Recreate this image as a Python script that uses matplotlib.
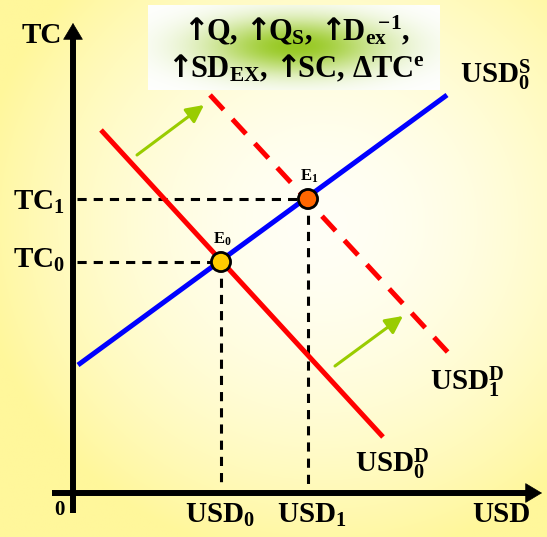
import numpy as np
import matplotlib
matplotlib.use('Agg')
from matplotlib import pyplot as plt

plt.rcParams['mathtext.fontset'] = 'custom'
plt.rcParams['mathtext.rm'] = 'Liberation Serif:bold'
plt.rcParams['mathtext.it'] = 'Liberation Serif:bold'
plt.rcParams['mathtext.bf'] = 'Liberation Serif:bold'
plt.rcParams['mathtext.sf'] = 'DejaVu Sans:bold'
plt.rcParams['mathtext.default'] = 'rm'

# curves (x = USD, y = TC), in chart units with origin at axes corner
supply_x = [5, 374]
supply_y = [128, 398]
demand0_x = [28, 310]
demand0_y = [363, 56]
demand1_x = [137, 382]
demand1_y = [398, 133]

# equilibria E0, E1
eq_x = [148, 235]
eq_y = [231, 294]
eq_colors = ['#FFCC00', '#FF6600']
eq_names = ['E$_0$', 'E$_1$']

# shift arrows (start, end)
shift_arrows = [((64, 338), (131, 388)), ((262, 127), (330, 177))]

up = r'$\!\mathsf{\uparrow}\!\!$'
box_lines = [up + 'Q, ' + up + r'Q$_\mathrm{S}$, ' + up + r'D$_\mathrm{ex}\!\!{}^{-1}$,',
             up + r'SD$_\mathrm{EX}$, ' + up + r'SC, ΔTC$^\mathrm{e}$']

fig = plt.figure(figsize=(5.47, 5.37), dpi=100)
ax = fig.add_axes([0, 0, 1, 1])
ax.set_xlim(-73, 474)
ax.set_ylim(-44, 493)
ax.axis('off')

# yellow background with light centre
xx, yy = np.meshgrid(np.linspace(-73, 474, 300), np.linspace(-44, 493, 300))
d = np.clip(np.sqrt(((xx - 250) / 350) ** 2 + ((yy - 270) / 340) ** 2), 0, 1) ** 1.7
c0 = np.array([255, 255, 246]) / 255
c1 = np.array([255, 247, 155]) / 255
bg = c0 + (c1 - c0) * d[..., None]
ax.imshow(bg, extent=(-73, 474, -44, 493), origin='lower', aspect='auto', zorder=0)

# text box with green glow
bx0, bx1, by0, by1 = 75, 367, 403, 488
gx, gy = np.meshgrid(np.linspace(bx0, bx1, 200), np.linspace(by0, by1, 80))
w = np.exp(-(((gx - 222) / 90) ** 2 + ((gy - 447) / 28) ** 2))
g0 = np.array([1.0, 1.0, 1.0])
g1 = np.array([140, 195, 10]) / 255
box = g0 + (g1 - g0) * (0.9 * w)[..., None]
ax.imshow(box, extent=(bx0, bx1, by0, by1), origin='lower', aspect='auto', zorder=1)
for i, s in enumerate(box_lines):
    ax.text(223, 453 - i * 37, s, ha='center', va='baseline', fontsize=22,
            family='Liberation Serif', weight='bold', zorder=6)

# axes
ax.plot([0, 0], [-20, 456], color='black', lw=4.3, solid_capstyle='butt', zorder=5)
ax.plot([-21, 455], [0, 0], color='black', lw=4.3, solid_capstyle='butt', zorder=5)
head = dict(arrowstyle='-|>,head_length=0.75,head_width=0.45', lw=0.5, color='black',
            shrinkA=0, shrinkB=0, mutation_scale=15)
ax.annotate('', xy=(0, 470), xytext=(0, 440), arrowprops=head, zorder=5)
ax.annotate('', xy=(469, 0), xytext=(440, 0), arrowprops=head, zorder=5)

# guide lines
for x, y in zip(eq_x, eq_y):
    ax.plot([4, x], [y, y], color='black', lw=2.2, dashes=(3, 2.3), zorder=2)
    ax.plot([x, x], [y, 8], color='black', lw=2.2, dashes=(3, 2.3), zorder=2)

ax.plot(supply_x, supply_y, color='#0000FF', lw=3.6, solid_capstyle='butt', zorder=3)
ax.plot(demand0_x, demand0_y, color='#FF0000', lw=3.6, solid_capstyle='butt', zorder=3)
ax.plot(demand1_x, demand1_y, color='#FF0000', lw=3.6, dashes=(4, 2.6), zorder=3)

for (x0, y0), (x1, y1) in shift_arrows:
    ax.annotate('', xy=(x1, y1), xytext=(x0, y0),
                arrowprops=dict(arrowstyle='-|>,head_length=0.7,head_width=0.35', lw=2.2,
                                color='#99CC00', shrinkA=0, shrinkB=0, mutation_scale=15), zorder=4)

ax.scatter(eq_x, eq_y, s=190, c=eq_colors, edgecolors='black', linewidths=2, zorder=7)
for x, y, s in zip(eq_x, eq_y, eq_names):
    ax.text(x + 1, y + 18, s, ha='center', va='baseline', fontsize=12,
            family='Liberation Serif', weight='bold', zorder=6)

lab = dict(family='Liberation Serif', weight='bold', fontsize=21, va='baseline', zorder=6)
ax.text(-51, 450, 'TC', ha='left', **lab)
ax.text(-60, 283, 'TC$_1$', ha='left', **lab)
ax.text(-60, 225, 'TC$_0$', ha='left', **lab)
ax.text(-14, -22, '0', ha='center', family='Liberation Serif', weight='bold', fontsize=15, va='baseline')
ax.text(112, -30, 'USD$_0$', ha='left', **lab)
ax.text(204, -30, 'USD$_1$', ha='left', **lab)
ax.text(399, -29, 'USD', ha='left', **lab)
ax.text(282, 21, 'USD$^\\mathrm{D}_0$', ha='left', **lab)
ax.text(357, 103, 'USD$^\\mathrm{D}_1$', ha='left', **lab)
ax.text(387, 410, 'USD$^\\mathrm{S}_0$', ha='left', **lab)

plt.savefig('out.png', dpi=100)
